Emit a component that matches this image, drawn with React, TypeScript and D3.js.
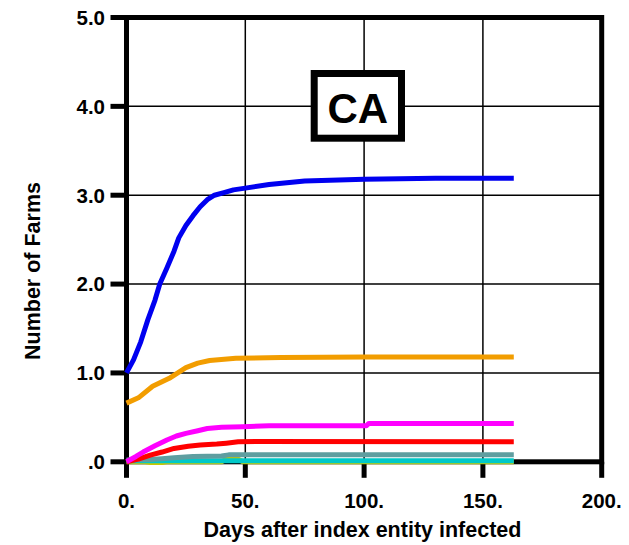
import React from "react";
import * as d3 from "d3";

const W = 629;
const H = 545;

const xTicks = [0, 50, 100, 150, 200];
const xTickLabels = ["0.", "50.", "100.", "150.", "200."];
const yTicks = [0, 1, 2, 3, 4, 5];
const yTickLabels = [".0", "1.0", "2.0", "3.0", "4.0", "5.0"];

const xTitle = "Days after index entity infected";
const yTitle = "Number of Farms";
const boxLabel = "CA";

type P = [number, number];

const blueSeries: P[] = [
  [0, 1.0], [3, 1.15], [6, 1.35], [9, 1.6], [12, 1.82], [14, 2.0], [17, 2.18],
  [20, 2.37], [22, 2.52], [25, 2.66], [28, 2.77], [31, 2.87], [34, 2.95],
  [37, 3.0], [41, 3.03], [45, 3.06], [50, 3.08], [60, 3.12], [75, 3.16],
  [100, 3.18], [130, 3.19], [163, 3.19],
];
const orangeSeries: P[] = [
  [0, 0.66], [5, 0.72], [11, 0.85], [18, 0.94], [25, 1.06], [30, 1.11],
  [35, 1.14], [46, 1.165], [65, 1.175], [100, 1.18], [163, 1.18],
];
const magentaSeries: P[] = [
  [0, 0.0], [4, 0.06], [7, 0.11], [12, 0.18], [17, 0.245], [21, 0.29],
  [25, 0.32], [30, 0.35], [34, 0.375], [40, 0.39], [49, 0.395], [60, 0.405],
  [101, 0.406], [102, 0.432], [163, 0.432],
];
const redSeries: P[] = [
  [0, 0.0], [5, 0.03], [10, 0.075], [15, 0.11], [20, 0.15], [26, 0.175],
  [31, 0.19], [38, 0.2], [42, 0.21], [47, 0.225], [55, 0.228], [163, 0.225],
];
const graySeries: P[] = [
  [0, 0.02], [10, 0.025], [15, 0.035], [20, 0.045], [28, 0.06], [40, 0.065],
  [43, 0.078], [163, 0.078],
];
const cyanSeries: P[] = [
  [0, 0.012], [40, 0.012], [100, 0.012], [163, 0.012],
];
const yellowSeries: P[] = [
  [0, 0.0], [8, 0.0], [10, -0.008], [15, -0.008], [17, 0.0], [40, 0.0],
  [42, 0.03], [47, 0.03], [49, 0.0], [163, 0.0],
];

const seriesList: { data: P[]; color: string }[] = [
  { data: yellowSeries, color: "#c8c800" },
  { data: cyanSeries, color: "#00c8c8" },
  { data: graySeries, color: "#5f9ea0" },
  { data: redSeries, color: "#ff0000" },
  { data: magentaSeries, color: "#ff00ff" },
  { data: orangeSeries, color: "#f29d00" },
  { data: blueSeries, color: "#0000f0" },
];

const FONT = "'Liberation Sans', Arial, sans-serif";

export default function App() {
  const x = d3.scaleLinear().domain([0, 200]).range([126.5, 601.7]);
  const y = d3.scaleLinear().domain([0, 5]).range([461.8, 17.5]);
  const line = d3
    .line<P>()
    .x((d) => x(d[0]))
    .y((d) => y(d[1]));

  const x0 = x(0), x1 = x(200), y0 = y(0), y1 = y(5);

  return (
    <svg
      width={W}
      height={H}
      style={{ position: "absolute", left: 0, top: 0, background: "#fff" }}
      fontFamily={FONT}
    >
      <rect x={0} y={0} width={W} height={H} fill="#fff" />
      {/* grid */}
      {xTicks.filter((t) => t > 0 && t < 200).map((t) => (
        <line key={"gx" + t} x1={x(t)} x2={x(t)} y1={y1} y2={y0} stroke="#000" strokeWidth={1.5} />
      ))}
      {yTicks.filter((t) => t > 0 && t < 5).map((t) => (
        <line key={"gy" + t} x1={x0} x2={x1} y1={y(t)} y2={y(t)} stroke="#000" strokeWidth={1.5} />
      ))}
      {/* frame */}
      <rect x={x0} y={y1} width={x1 - x0} height={y0 - y1} fill="none" stroke="#000" strokeWidth={5} />
      {/* ticks */}
      {yTicks.map((t) => (
        <line key={"ty" + t} x1={x0 - 16} x2={x0} y1={y(t)} y2={y(t)} stroke="#000" strokeWidth={5} />
      ))}
      {xTicks.map((t) => (
        <line key={"tx" + t} x1={x(t)} x2={x(t)} y1={y0} y2={y0 + 16} stroke="#000" strokeWidth={5} />
      ))}
      {/* tick labels */}
      {yTicks.map((t, i) => (
        <text key={"ly" + t} x={105} y={y(t) + 7.3} textAnchor="end" fontSize={20.5} fontWeight="bold" fill="#000">
          {yTickLabels[i]}
        </text>
      ))}
      {xTicks.map((t, i) => (
        <text key={"lx" + t} x={x(t)} y={508} textAnchor="middle" fontSize={20.5} fontWeight="bold" fill="#000">
          {xTickLabels[i]}
        </text>
      ))}
      {/* titles */}
      <text x={362.5} y={537} textAnchor="middle" fontSize={21.5} fontWeight="bold" fill="#000">
        {xTitle}
      </text>
      <text
        transform="translate(40,271) rotate(-90)"
        textAnchor="middle"
        fontSize={21.5}
        fontWeight="bold"
        fill="#000"
      >
        {yTitle}
      </text>
      {/* CA box */}
      <rect x={314.2} y={73.5} width={87.3} height={64.7} fill="#fff" stroke="#000" strokeWidth={7} />
      <text x={357.8} y={123} textAnchor="middle" fontSize={42} fontWeight="bold" fill="#000">
        {boxLabel}
      </text>
      {/* series */}
      {seriesList.map((s, i) => (
        <path key={"s" + i} d={line(s.data) || ""} fill="none" stroke={s.color} strokeWidth={5} strokeLinejoin="round" />
      ))}
    </svg>
  );
}
